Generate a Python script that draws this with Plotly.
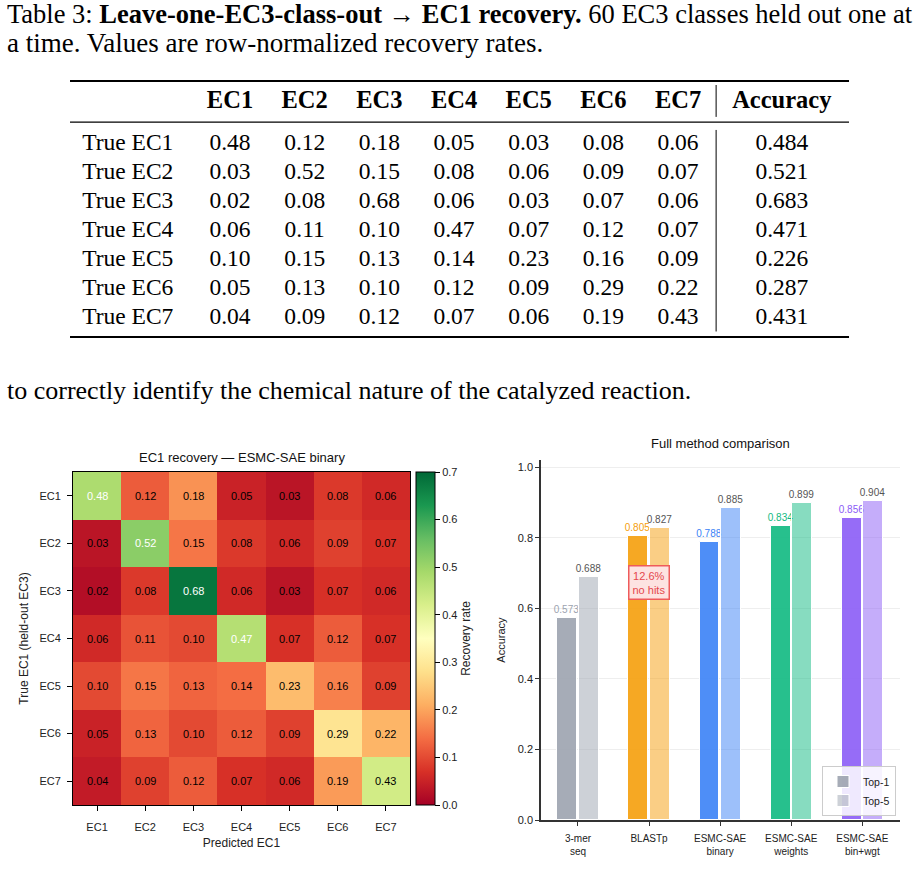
import plotly.graph_objects as go

# ---------------- data ----------------
ec_labels = ["EC1", "EC2", "EC3", "EC4", "EC5", "EC6", "EC7"]
true_labels = ["True EC1", "True EC2", "True EC3", "True EC4", "True EC5", "True EC6", "True EC7"]
recovery = [
    [0.48, 0.12, 0.18, 0.05, 0.03, 0.08, 0.06],
    [0.03, 0.52, 0.15, 0.08, 0.06, 0.09, 0.07],
    [0.02, 0.08, 0.68, 0.06, 0.03, 0.07, 0.06],
    [0.06, 0.11, 0.10, 0.47, 0.07, 0.12, 0.07],
    [0.10, 0.15, 0.13, 0.14, 0.23, 0.16, 0.09],
    [0.05, 0.13, 0.10, 0.12, 0.09, 0.29, 0.22],
    [0.04, 0.09, 0.12, 0.07, 0.06, 0.19, 0.43],
]
accuracy = [0.484, 0.521, 0.683, 0.471, 0.226, 0.287, 0.431]

methods = ["3-mer<br>seq", "BLASTp", "ESMC-SAE<br>binary", "ESMC-SAE<br>weights", "ESMC-SAE<br>bin+wgt"]
top1 = [0.573, 0.805, 0.788, 0.834, 0.856]
top5 = [0.688, 0.827, 0.885, 0.899, 0.904]
method_rgb = [(156, 163, 175), (245, 158, 11), (59, 130, 246), (16, 185, 129), (139, 92, 246)]
blast_nohits = "12.6%<br>no hits"

caption1 = "Table 3: <b>Leave-one-EC3-class-out → EC1 recovery.</b> 60 EC3 classes held out one at"
caption2 = "a time. Values are row-normalized recovery rates."
body_text = "to correctly identify the chemical nature of the catalyzed reaction."

# ---------------- layout helpers ----------------
W, H = 918, 891
def px(x):
    return x / W
def py(y):
    return 1 - y / H

SERIF = "Liberation Serif"
SANS = "Liberation Sans"

fig = go.Figure()

# ---------------- table (text on a hidden axis) ----------------
col_idx = list(range(len(ec_labels)))
row_idx = list(range(len(true_labels)))
HEADER_Y = -1.42
LABEL_X = -1.98
ACC_X = 7.39
VLINE_X = 6.51
RULE_L, RULE_R = -2.143, 8.29
TOP_RULE, MID_RULE, BOT_RULE = -2.14, -0.72, 6.69
TXT_DY = 0.05

fig.add_trace(go.Scatter(
    x=col_idx + [ACC_X], y=[HEADER_Y] * 8,
    text=["<b>%s</b>" % c for c in ec_labels] + ["<b>Accuracy</b>"],
    mode="text", textposition="middle center",
    textfont=dict(family=SERIF, size=24.5, color="black"),
    xaxis="x3", yaxis="y3", showlegend=False, hoverinfo="skip"))
fig.add_trace(go.Scatter(
    x=[LABEL_X] * len(true_labels), y=[r + TXT_DY for r in row_idx], text=true_labels,
    mode="text", textposition="middle right",
    textfont=dict(family=SERIF, size=23.5, color="black"),
    xaxis="x3", yaxis="y3", showlegend=False, hoverinfo="skip"))
vx, vy, vt = [], [], []
for i, row in enumerate(recovery):
    for j, v in enumerate(row):
        vx.append(j); vy.append(i + TXT_DY); vt.append("%.2f" % v)
    vx.append(ACC_X); vy.append(i + TXT_DY); vt.append("%.3f" % accuracy[i])
fig.add_trace(go.Scatter(
    x=vx, y=vy, text=vt, mode="text", textposition="middle center",
    textfont=dict(family=SERIF, size=23.5, color="black"),
    xaxis="x3", yaxis="y3", showlegend=False, hoverinfo="skip"))

for yv, w in [(TOP_RULE, 2), (MID_RULE, 1.1), (BOT_RULE, 2)]:
    fig.add_shape(type="line", xref="x3", yref="y3", x0=RULE_L, x1=RULE_R, y0=yv, y1=yv,
                  line=dict(color="black", width=w))
fig.add_shape(type="line", xref="x3", yref="y3", x0=VLINE_X, x1=VLINE_X, y0=-2.0, y1=-0.9,
              line=dict(color="black", width=1))
fig.add_shape(type="line", xref="x3", yref="y3", x0=VLINE_X, x1=VLINE_X, y0=-0.45, y1=6.5,
              line=dict(color="black", width=1))

# captions / body text
fig.add_annotation(text=caption1, xref="paper", yref="paper", x=px(5), y=py(14),
                   xanchor="left", yanchor="middle", showarrow=False,
                   font=dict(family=SERIF, size=26.5, color="black"))
fig.add_annotation(text=caption2, xref="paper", yref="paper", x=px(5), y=py(43),
                   xanchor="left", yanchor="middle", showarrow=False,
                   font=dict(family=SERIF, size=27, color="black"))
fig.add_annotation(text=body_text, xref="paper", yref="paper", x=px(5), y=py(390),
                   xanchor="left", yanchor="middle", showarrow=False,
                   font=dict(family=SERIF, size=26, color="black"))

# ---------------- heatmap ----------------
hm_dom_x = [px(73), px(410)]
hm_dom_y = [py(805), py(472)]
fig.add_trace(go.Heatmap(
    z=recovery, x=ec_labels, y=ec_labels, colorscale="RdYlGn", zmin=0, zmax=0.7,
    xaxis="x", yaxis="y", xgap=0, ygap=0, hoverinfo="skip",
    colorbar=dict(
        x=px(416), xanchor="left", xref="paper", xpad=0, ypad=0,
        y=(hm_dom_y[0] + hm_dom_y[1]) / 2, yanchor="middle",
        len=hm_dom_y[1] - hm_dom_y[0], lenmode="fraction", thickness=19,
        outlinewidth=1, outlinecolor="black",
        ticks="outside", ticklen=5, tickcolor="black", tickwidth=1,
        tickvals=[0, 0.1, 0.2, 0.3, 0.4, 0.5, 0.6, 0.7], tickformat=".1f",
        tickfont=dict(family=SANS, size=11, color="#222"),
        title=dict(text="Recovery rate", side="right", font=dict(family=SANS, size=12, color="#222")),
    )))
for i, row in enumerate(recovery):
    for j, v in enumerate(row):
        fig.add_annotation(x=ec_labels[j], y=ec_labels[i], xref="x", yref="y",
                           text="%.2f" % v, showarrow=False,
                           font=dict(family=SANS, size=11, color="white" if v > 0.45 else "black"))
fig.add_annotation(text="EC1 recovery — ESMC-SAE binary", xref="paper", yref="paper",
                   x=(hm_dom_x[0] + hm_dom_x[1]) / 2, y=py(457), xanchor="center", yanchor="middle",
                   showarrow=False, font=dict(family=SANS, size=13, color="#111"))

# ---------------- bar chart ----------------
def rgba(c, a):
    return "rgba(%d,%d,%d,%.2f)" % (c[0], c[1], c[2], a)

fig.add_trace(go.Bar(
    x=methods, y=top1, name="Top-1", xaxis="x2", yaxis="y2",
    width=0.28, offset=-0.29,
    marker=dict(color=[rgba(c, 0.9) for c in method_rgb], line=dict(color="white", width=1)),
    text=["%.3f" % v for v in top1], textposition="outside", cliponaxis=False,
    constraintext="none",
    textfont=dict(family=SANS, size=10, color=[rgba(c, 1.0) for c in method_rgb]),
    hoverinfo="skip"))
fig.add_trace(go.Bar(
    x=methods, y=top5, name="Top-5", xaxis="x2", yaxis="y2",
    width=0.28, offset=0.01,
    marker=dict(color=[rgba(c, 0.5) for c in method_rgb], line=dict(color="white", width=1)),
    text=["%.3f" % v for v in top5], textposition="outside", cliponaxis=False,
    constraintext="none",
    textfont=dict(family=SANS, size=10, color="#555"),
    hoverinfo="skip"))
fig.add_annotation(x=1, y=0.674, xref="x2", yref="y2", text=blast_nohits, showarrow=False,
                   font=dict(family=SANS, size=11, color="#e5484d"),
                   bgcolor="#fde3e1", bordercolor="#ef5b5b", borderwidth=1.5, borderpad=3, align="center")
bar_dom_x = [px(541), px(900)]
fig.add_annotation(text="Full method comparison", xref="paper", yref="paper",
                   x=(bar_dom_x[0] + bar_dom_x[1]) / 2, y=py(444), xanchor="center", yanchor="middle",
                   showarrow=False, font=dict(family=SANS, size=13, color="#111"))

# ---------------- layout ----------------
fig.update_layout(
    width=W, height=H, margin=dict(l=0, r=0, t=0, b=0, autoexpand=False),
    paper_bgcolor="white", plot_bgcolor="white",
    showlegend=True,
    legend=dict(x=px(896), xanchor="right", y=py(816), yanchor="bottom",
                bgcolor="rgba(255,255,255,0.85)", bordercolor="#cccccc", borderwidth=1,
                font=dict(family=SANS, size=10.5, color="#222"), itemwidth=30,
                tracegroupgap=0),
    # heatmap axes
    xaxis=dict(domain=hm_dom_x, anchor="y", showline=True, mirror=True, linecolor="black", linewidth=1,
               ticks="outside", ticklen=5, tickcolor="black", showgrid=False, zeroline=False,
               ticklabelstandoff=7,
               tickfont=dict(family=SANS, size=11, color="#222"),
               title=dict(text="Predicted EC1", font=dict(family=SANS, size=12, color="#222"), standoff=6)),
    yaxis=dict(domain=hm_dom_y, anchor="x", autorange="reversed", showline=True, mirror=True,
               linecolor="black", linewidth=1, ticks="outside", ticklen=5, tickcolor="black",
               showgrid=False, zeroline=False, ticklabelstandoff=4,
               tickfont=dict(family=SANS, size=11, color="#222"),
               title=dict(text="True EC1 (held-out EC3)", font=dict(family=SANS, size=12, color="#222"),
                          standoff=8)),
    # bar axes
    xaxis2=dict(domain=bar_dom_x, anchor="y2", range=[-0.52, 4.53], showline=True, linecolor="#333",
                linewidth=1.5, ticks="outside", ticklen=4, tickcolor="#333", showgrid=False,
                ticklabelstandoff=4,
                tickfont=dict(family=SANS, size=10, color="#222")),
    yaxis2=dict(domain=[py(820), py(460)], anchor="x2", range=[0, 1.02], showline=True, linecolor="#333",
                linewidth=1.5, ticks="outside", ticklen=4, tickcolor="#333",
                tickvals=[0, 0.2, 0.4, 0.6, 0.8, 1.0], tickformat=".1f",
                showgrid=True, gridcolor="#eeeeee", gridwidth=1, zeroline=False,
                tickfont=dict(family=SANS, size=11, color="#222"),
                title=dict(text="Accuracy", font=dict(family=SANS, size=11, color="#222"), standoff=10)),
    # table axes (hidden)
    xaxis3=dict(domain=[px(60), px(860)], anchor="y3", range=[-2.277, 8.437], visible=False),
    yaxis3=dict(domain=[py(343), py(75)], anchor="x3", range=[6.897, -2.345], visible=False),
    bargap=0,
)

fig.write_html("out.html")
